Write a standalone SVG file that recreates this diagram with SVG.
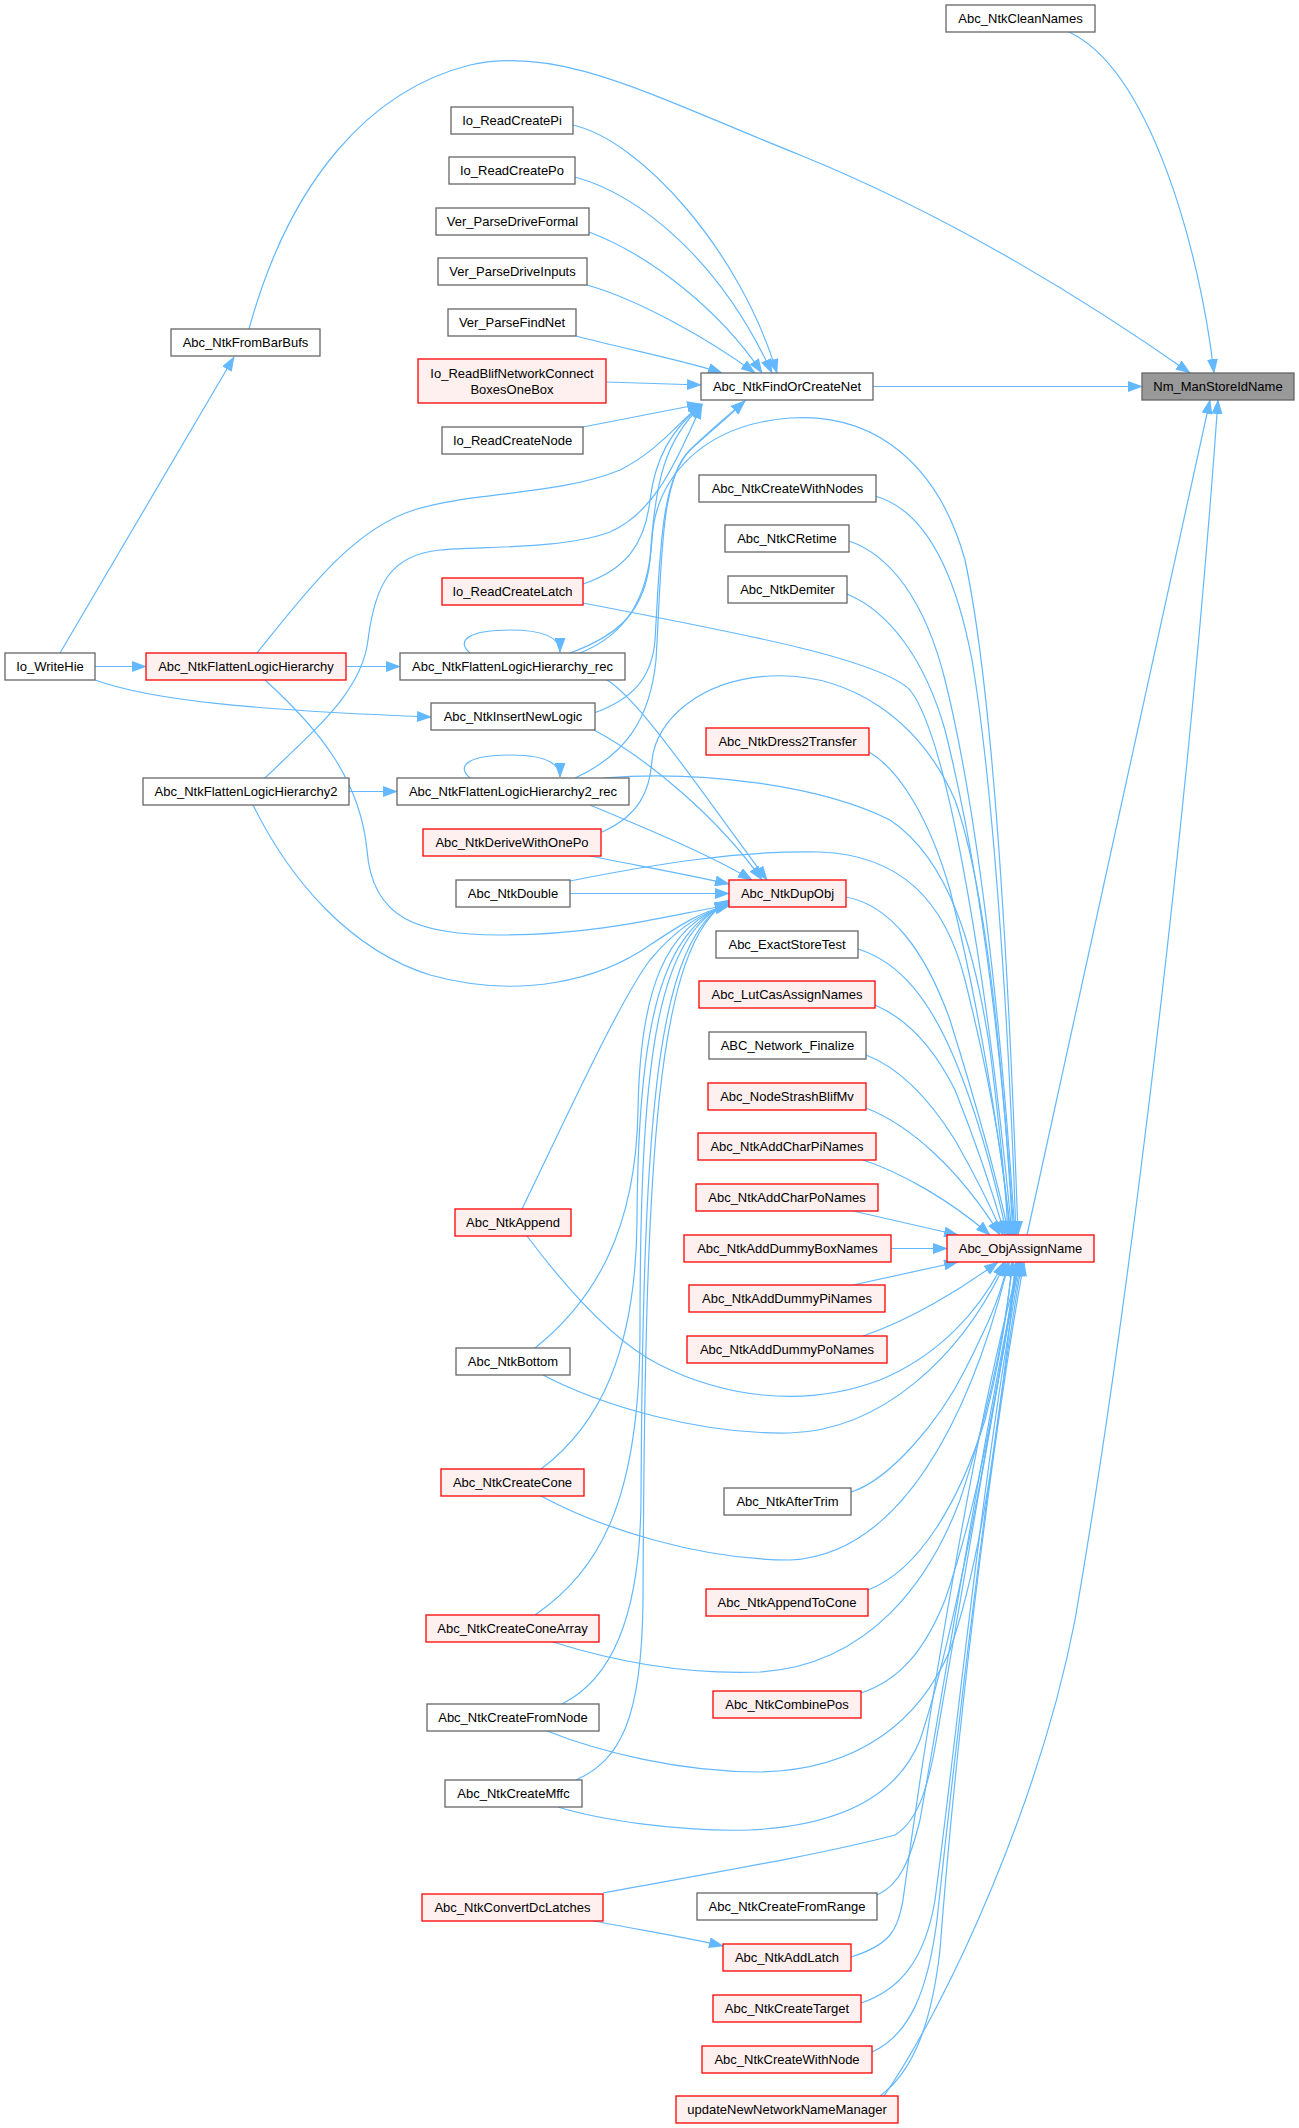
<svg xmlns="http://www.w3.org/2000/svg" width="1299" height="2128" viewBox="0 0 1299 2128">
<style>
.e{fill:none;stroke:#63b8ff;stroke-width:1.2;marker-end:url(#ah)}
.n rect{fill:#ffffff;stroke:#666666;stroke-width:1.3}
.r rect{fill:#fff0f0;stroke:#ff0000;stroke-width:1.3}
.root rect{fill:#999999;stroke:#666666;stroke-width:1.3}
text{font-family:"Liberation Sans",Arial,sans-serif;font-size:13px;fill:#000;text-anchor:middle}
</style>
<defs>
<marker id="ah" markerUnits="userSpaceOnUse" markerWidth="15" markerHeight="11" viewBox="0 0 15 11" refX="14" refY="5.5" orient="auto"><path d="M0,0 L15,5.5 L0,11 z" fill="#63b8ff"/></marker>
</defs>
<rect width="1299" height="2128" fill="#ffffff"/>
<g id="edges">
<path class="e" d="M1069,32 C1150,70 1200,250 1214,373"/>
<path class="e" d="M249,329 C290,180 370,90 470,65 C560,45 650,95 800,155 C960,220 1100,310 1190,373"/>
<path class="e" d="M873,386.5 L1142,386.5"/>
<path class="e" d="M1027,1235 L1210,400"/>
<path class="e" d="M884,2096 C950,2000 1040,1800 1075,1620 C1130,1300 1190,800 1218,400"/>
<path class="e" d="M573,125 C640,140 740,250 777,373"/>
<path class="e" d="M575,177 C640,195 720,260 772,373"/>
<path class="e" d="M589,232 C650,255 720,310 762,373"/>
<path class="e" d="M587,285 C640,300 710,340 755,373"/>
<path class="e" d="M576,336 C630,350 690,362 722,373"/>
<path class="e" d="M606,382 L701,385"/>
<path class="e" d="M583,427 C620,420 660,412 701,404"/>
<path class="e" d="M257,653 C300,600 350,530 414,510 C470,492 560,495 620,470 C660,450 680,420 702,404"/>
<path class="e" d="M265,778 C320,725 362,690 368,640 C375,585 390,555 440,550 C480,546 560,550 610,532 C660,510 680,450 702,405"/>
<path class="e" d="M583,584 C625,570 645,545 650,500 C655,460 670,430 702,405"/>
<path class="e" d="M570,653 C620,635 645,610 650,560 C655,480 665,440 702,405"/>
<path class="e" d="M594,713 C630,700 652,680 655,640 C660,560 660,480 690,450 C710,430 725,418 745,401"/>
<path class="e" d="M575,778 C625,755 650,720 656,660 C662,560 660,480 690,450 C712,430 727,418 745,401"/>
<path class="e" d="M95,666.5 L146,666.5"/>
<path class="e" d="M95,680 C150,700 250,710 431,717"/>
<path class="e" d="M60,653 L234,357"/>
<path class="e" d="M346,666.5 L400,666.5"/>
<path class="e" d="M349,791.5 L397,791.5"/>
<path class="e" d="M470,653 C455,640 470,630 510,630 C545,630 560,638 560,652"/>
<path class="e" d="M470,778 C455,765 470,755 510,755 C545,755 560,763 560,777"/>
<path class="e" d="M589,1920 C640,1930 690,1938 723,1946"/>
<path class="e" d="M265,680 C320,730 360,780 367,850 C372,920 420,935 500,935 C600,935 670,915 729,905"/>
<path class="e" d="M253,805 C290,880 350,950 430,975 C520,1000 600,980 650,945 C680,925 700,912 729,905"/>
<path class="e" d="M607,680 C640,700 700,790 767,880"/>
<path class="e" d="M594,730 C650,760 720,820 762,880"/>
<path class="e" d="M590,805 C650,830 710,855 752,880"/>
<path class="e" d="M590,856 C640,866 690,875 729,884"/>
<path class="e" d="M570,893.5 L729,893.5"/>
<path class="e" d="M522,1209 C570,1110 620,1000 650,960 C675,930 700,912 729,906"/>
<path class="e" d="M535,1348 C595,1300 636,1230 638,1110 C640,990 665,925 729,904"/>
<path class="e" d="M541,1469 C600,1425 636,1350 637,1220 C638,1020 662,930 729,903"/>
<path class="e" d="M535,1615 C600,1570 640,1500 640,1330 C640,1040 660,935 729,902"/>
<path class="e" d="M562,1704 C610,1680 640,1620 641,1500 C643,1100 658,940 729,901"/>
<path class="e" d="M576,1780 C620,1760 642,1720 643,1600 C645,1150 656,945 729,900"/>
<path class="e" d="M580,653 C625,635 648,600 652,540 C655,480 700,425 790,418 C880,412 940,470 965,560 C995,700 1010,1000 1018,1235"/>
<path class="e" d="M583,603 C750,635 880,660 910,690 C950,740 990,1000 1012,1235"/>
<path class="e" d="M603,778 C700,770 820,785 890,820 C950,860 975,950 990,1050 C1000,1130 1006,1190 1008,1235"/>
<path class="e" d="M602,832 C640,815 650,790 652,760 C656,720 700,680 770,676 C850,672 920,720 955,800 C990,900 1005,1100 1013,1235"/>
<path class="e" d="M570,881 C650,865 740,850 820,852 C900,855 945,900 965,980 C990,1080 1005,1170 1010,1235"/>
<path class="e" d="M875,496 C925,510 955,570 972,660 C992,780 1008,1000 1016,1235"/>
<path class="e" d="M849,541 C890,555 925,600 945,680 C975,800 1000,1000 1015,1235"/>
<path class="e" d="M847,594 C890,612 925,660 945,730 C975,850 1000,1020 1014,1235"/>
<path class="e" d="M869,752 C900,770 930,820 950,890 C975,990 995,1100 1011,1235"/>
<path class="e" d="M846,897 C890,905 925,950 950,1020 C975,1100 995,1170 1009,1235"/>
<path class="e" d="M858,949 C900,962 930,1000 955,1060 C980,1120 995,1180 1007,1235"/>
<path class="e" d="M875,1005 C910,1020 935,1050 955,1090 C975,1140 992,1190 1005,1235"/>
<path class="e" d="M866,1055 C900,1068 930,1100 955,1140 C975,1175 990,1205 1003,1235"/>
<path class="e" d="M866,1108 C910,1125 960,1170 1000,1235"/>
<path class="e" d="M863,1160 C900,1172 950,1200 990,1235"/>
<path class="e" d="M853,1211 L958,1235"/>
<path class="e" d="M891,1248.5 L947,1248.5"/>
<path class="e" d="M853,1285 L958,1262"/>
<path class="e" d="M863,1336 C910,1320 960,1290 998,1262"/>
<path class="e" d="M527,1236 C560,1280 610,1340 660,1365 C720,1395 800,1410 880,1380 C940,1355 980,1310 1004,1262"/>
<path class="e" d="M543,1375 C600,1405 700,1435 790,1433 C880,1430 960,1360 1006,1262"/>
<path class="e" d="M851,1492 C890,1480 940,1420 965,1370 C985,1330 1000,1300 1008,1262"/>
<path class="e" d="M541,1496 C600,1528 700,1560 790,1560 C900,1555 970,1420 1009,1262"/>
<path class="e" d="M868,1590 C920,1570 960,1500 985,1420 C1000,1360 1008,1310 1012,1262"/>
<path class="e" d="M553,1642 C610,1660 680,1675 760,1672 C870,1665 930,1580 960,1500 C990,1410 1005,1330 1013,1262"/>
<path class="e" d="M861,1693 C900,1680 925,1650 945,1600 C980,1500 1005,1350 1016,1262"/>
<path class="e" d="M547,1731 C600,1752 680,1772 760,1772 C860,1770 920,1720 950,1650 C985,1550 1005,1380 1016,1262"/>
<path class="e" d="M558,1807 C600,1820 680,1832 750,1830 C850,1825 900,1790 920,1740 C960,1620 995,1400 1018,1262"/>
<path class="e" d="M603,1893 C700,1875 820,1855 895,1835 C920,1820 930,1780 938,1730 C960,1600 995,1400 1019,1262"/>
<path class="e" d="M877,1895 C900,1885 910,1860 920,1820 C950,1650 990,1400 1020,1262"/>
<path class="e" d="M851,1957 C890,1945 898,1930 903,1900 C930,1700 980,1400 1020,1262"/>
<path class="e" d="M861,2003 C900,1990 925,1960 935,1900 C955,1750 985,1450 1021,1262"/>
<path class="e" d="M872,2052 C910,2035 928,1990 937,1920 C955,1750 990,1450 1022,1262"/>
<path class="e" d="M880,2096 C915,2070 932,2020 940,1950 C955,1750 990,1450 1024,1262"/>
</g>
<g id="node-Nm_ManStoreIdName" class="root"><rect x="1142" y="373" width="152" height="27"/><text x="1218" y="391">Nm_ManStoreIdName</text></g>
<g id="node-Abc_NtkCleanNames" class="n"><rect x="946" y="5" width="149" height="27"/><text x="1020.5" y="23">Abc_NtkCleanNames</text></g>
<g id="node-Abc_NtkFindOrCreateNet" class="n"><rect x="701" y="373" width="172" height="27"/><text x="787" y="391">Abc_NtkFindOrCreateNet</text></g>
<g id="node-Abc_NtkFromBarBufs" class="n"><rect x="171" y="329" width="149" height="27"/><text x="245.5" y="347">Abc_NtkFromBarBufs</text></g>
<g id="node-Io_ReadCreatePi" class="n"><rect x="451" y="107" width="122" height="27"/><text x="512" y="125">Io_ReadCreatePi</text></g>
<g id="node-Io_ReadCreatePo" class="n"><rect x="449" y="157" width="126" height="27"/><text x="512" y="175">Io_ReadCreatePo</text></g>
<g id="node-Ver_ParseDriveFormal" class="n"><rect x="436" y="208" width="153" height="27"/><text x="512.5" y="226">Ver_ParseDriveFormal</text></g>
<g id="node-Ver_ParseDriveInputs" class="n"><rect x="438" y="258" width="149" height="27"/><text x="512.5" y="276">Ver_ParseDriveInputs</text></g>
<g id="node-Ver_ParseFindNet" class="n"><rect x="448" y="309" width="128" height="27"/><text x="512" y="327">Ver_ParseFindNet</text></g>
<g id="node-Io_ReadBlifNetworkConnectBoxesOneBox" class="r"><rect x="418" y="359" width="188" height="44"/><text x="512" y="377.5">Io_ReadBlifNetworkConnect</text><text x="512" y="393.5">BoxesOneBox</text></g>
<g id="node-Io_ReadCreateNode" class="n"><rect x="442" y="427" width="141" height="27"/><text x="512.5" y="445">Io_ReadCreateNode</text></g>
<g id="node-Io_ReadCreateLatch" class="r"><rect x="442" y="578" width="141" height="27"/><text x="512.5" y="596">Io_ReadCreateLatch</text></g>
<g id="node-Io_WriteHie" class="n"><rect x="5" y="653" width="90" height="27"/><text x="50" y="671">Io_WriteHie</text></g>
<g id="node-Abc_NtkFlattenLogicHierarchy" class="r"><rect x="146" y="653" width="200" height="27"/><text x="246" y="671">Abc_NtkFlattenLogicHierarchy</text></g>
<g id="node-Abc_NtkFlattenLogicHierarchy_rec" class="n"><rect x="400" y="653" width="225" height="27"/><text x="512.5" y="671">Abc_NtkFlattenLogicHierarchy_rec</text></g>
<g id="node-Abc_NtkInsertNewLogic" class="n"><rect x="431" y="703" width="164" height="27"/><text x="513" y="721">Abc_NtkInsertNewLogic</text></g>
<g id="node-Abc_NtkFlattenLogicHierarchy2" class="n"><rect x="143" y="778" width="206" height="27"/><text x="246" y="796">Abc_NtkFlattenLogicHierarchy2</text></g>
<g id="node-Abc_NtkFlattenLogicHierarchy2_rec" class="n"><rect x="397" y="778" width="232" height="27"/><text x="513" y="796">Abc_NtkFlattenLogicHierarchy2_rec</text></g>
<g id="node-Abc_NtkDeriveWithOnePo" class="r"><rect x="423" y="829" width="178" height="27"/><text x="512" y="847">Abc_NtkDeriveWithOnePo</text></g>
<g id="node-Abc_NtkDouble" class="n"><rect x="456" y="880" width="114" height="27"/><text x="513" y="898">Abc_NtkDouble</text></g>
<g id="node-Abc_NtkAppend" class="r"><rect x="455" y="1209" width="116" height="27"/><text x="513" y="1227">Abc_NtkAppend</text></g>
<g id="node-Abc_NtkBottom" class="n"><rect x="456" y="1348" width="114" height="27"/><text x="513" y="1366">Abc_NtkBottom</text></g>
<g id="node-Abc_NtkCreateCone" class="r"><rect x="441" y="1469" width="143" height="27"/><text x="512.5" y="1487">Abc_NtkCreateCone</text></g>
<g id="node-Abc_NtkCreateConeArray" class="r"><rect x="426" y="1615" width="173" height="27"/><text x="512.5" y="1633">Abc_NtkCreateConeArray</text></g>
<g id="node-Abc_NtkCreateFromNode" class="n"><rect x="427" y="1704" width="172" height="27"/><text x="513" y="1722">Abc_NtkCreateFromNode</text></g>
<g id="node-Abc_NtkCreateMffc" class="n"><rect x="445" y="1780" width="137" height="27"/><text x="513.5" y="1798">Abc_NtkCreateMffc</text></g>
<g id="node-Abc_NtkConvertDcLatches" class="r"><rect x="422" y="1894" width="181" height="27"/><text x="512.5" y="1912">Abc_NtkConvertDcLatches</text></g>
<g id="node-Abc_NtkCreateWithNodes" class="n"><rect x="699" y="475" width="177" height="27"/><text x="787.5" y="493">Abc_NtkCreateWithNodes</text></g>
<g id="node-Abc_NtkCRetime" class="n"><rect x="725" y="525" width="124" height="27"/><text x="787" y="543">Abc_NtkCRetime</text></g>
<g id="node-Abc_NtkDemiter" class="n"><rect x="728" y="576" width="119" height="27"/><text x="787.5" y="594">Abc_NtkDemiter</text></g>
<g id="node-Abc_NtkDress2Transfer" class="r"><rect x="706" y="728" width="163" height="27"/><text x="787.5" y="746">Abc_NtkDress2Transfer</text></g>
<g id="node-Abc_NtkDupObj" class="r"><rect x="729" y="880" width="117" height="27"/><text x="787.5" y="898">Abc_NtkDupObj</text></g>
<g id="node-Abc_ExactStoreTest" class="n"><rect x="716" y="931" width="142" height="27"/><text x="787" y="949">Abc_ExactStoreTest</text></g>
<g id="node-Abc_LutCasAssignNames" class="r"><rect x="699" y="981" width="176" height="27"/><text x="787" y="999">Abc_LutCasAssignNames</text></g>
<g id="node-ABC_Network_Finalize" class="n"><rect x="709" y="1032" width="157" height="27"/><text x="787.5" y="1050">ABC_Network_Finalize</text></g>
<g id="node-Abc_NodeStrashBlifMv" class="r"><rect x="708" y="1083" width="158" height="27"/><text x="787" y="1101">Abc_NodeStrashBlifMv</text></g>
<g id="node-Abc_NtkAddCharPiNames" class="r"><rect x="698" y="1133" width="178" height="27"/><text x="787" y="1151">Abc_NtkAddCharPiNames</text></g>
<g id="node-Abc_NtkAddCharPoNames" class="r"><rect x="696" y="1184" width="182" height="27"/><text x="787" y="1202">Abc_NtkAddCharPoNames</text></g>
<g id="node-Abc_NtkAddDummyBoxNames" class="r"><rect x="684" y="1235" width="207" height="27"/><text x="787.5" y="1253">Abc_NtkAddDummyBoxNames</text></g>
<g id="node-Abc_ObjAssignName" class="r"><rect x="947" y="1235" width="147" height="27"/><text x="1020.5" y="1253">Abc_ObjAssignName</text></g>
<g id="node-Abc_NtkAddDummyPiNames" class="r"><rect x="689" y="1285" width="196" height="27"/><text x="787" y="1303">Abc_NtkAddDummyPiNames</text></g>
<g id="node-Abc_NtkAddDummyPoNames" class="r"><rect x="687" y="1336" width="200" height="27"/><text x="787" y="1354">Abc_NtkAddDummyPoNames</text></g>
<g id="node-Abc_NtkAfterTrim" class="n"><rect x="724" y="1488" width="127" height="27"/><text x="787.5" y="1506">Abc_NtkAfterTrim</text></g>
<g id="node-Abc_NtkAppendToCone" class="r"><rect x="706" y="1589" width="162" height="27"/><text x="787" y="1607">Abc_NtkAppendToCone</text></g>
<g id="node-Abc_NtkCombinePos" class="r"><rect x="713" y="1691" width="148" height="27"/><text x="787" y="1709">Abc_NtkCombinePos</text></g>
<g id="node-Abc_NtkCreateFromRange" class="n"><rect x="697" y="1893" width="180" height="27"/><text x="787" y="1911">Abc_NtkCreateFromRange</text></g>
<g id="node-Abc_NtkAddLatch" class="r"><rect x="723" y="1944" width="128" height="27"/><text x="787" y="1962">Abc_NtkAddLatch</text></g>
<g id="node-Abc_NtkCreateTarget" class="r"><rect x="713" y="1995" width="148" height="27"/><text x="787" y="2013">Abc_NtkCreateTarget</text></g>
<g id="node-Abc_NtkCreateWithNode" class="r"><rect x="702" y="2046" width="170" height="27"/><text x="787" y="2064">Abc_NtkCreateWithNode</text></g>
<g id="node-updateNewNetworkNameManager" class="r"><rect x="676" y="2096" width="222" height="27"/><text x="787" y="2114">updateNewNetworkNameManager</text></g>
</svg>
